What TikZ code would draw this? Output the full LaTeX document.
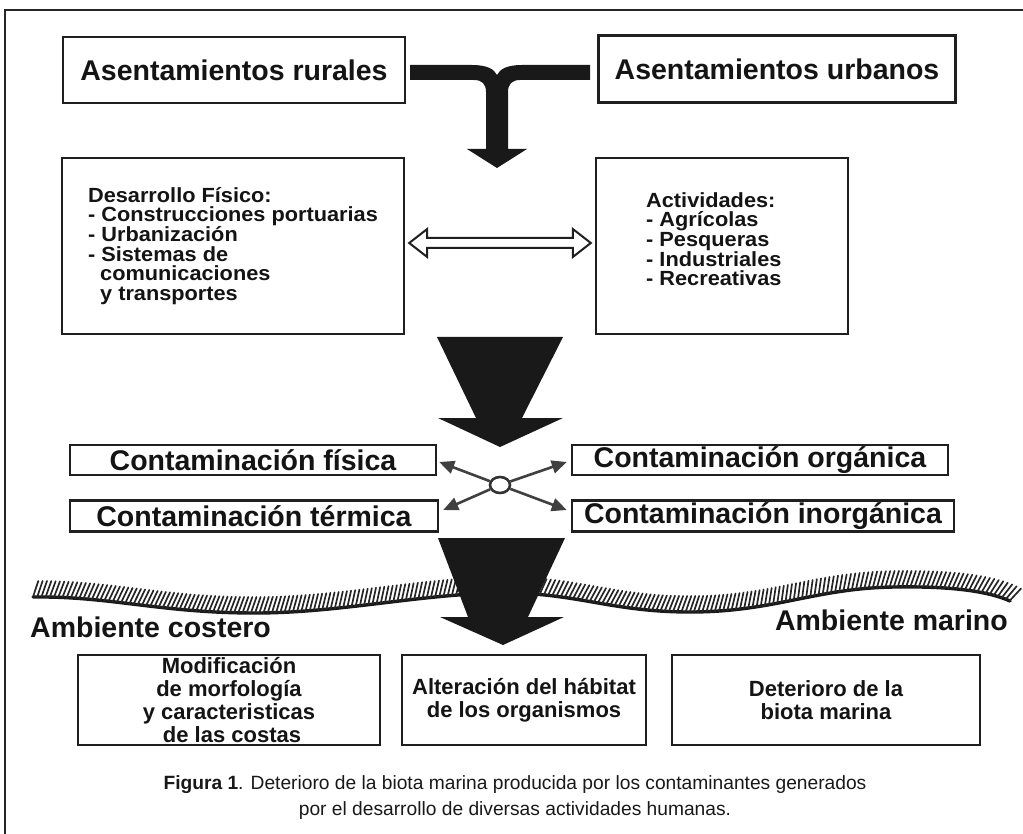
\documentclass[tikz,border=0pt]{standalone}
\usepackage{fontspec}
\setmainfont{Liberation Sans}
\newfontfamily\widesans[FakeStretch=1.06]{Liberation Sans}
\usetikzlibrary{arrows.meta,calc,shapes.geometric,decorations.markings}
\newcommand\tightlines{\lineskiplimit=-100pt\relax}

\begin{document}
\begin{tikzpicture}[x=1pt,y=-1pt,
  ink/.style={draw=black!88, line width=2.4pt},
  box/.style={ink, rectangle, inner sep=0pt, fill=white},
  bigtxt/.style={font={\fontsize{28.5}{30}\selectfont\bfseries}, text=black!92},
  midtxt/.style={font={\widesans\fontsize{20.5}{19.7}\selectfont\bfseries\tightlines},
      text=black!92, align=left, inner sep=0pt},
  lowtxt/.style={font={\fontsize{22}{23}\selectfont\bfseries\tightlines},
      text=black!92, align=center},
  captxt/.style={font={\fontsize{19.2}{26}\selectfont}, text=black!90, align=center},
  solidfill/.style={fill=black!90},
  hollow/.style={draw=black!88, line width=2pt, fill=white, line join=miter},
  spoke/.style={draw=black!75, line width=2.6pt, -{Triangle[length=15pt,width=13pt]}},
  hubring/.style={draw=black!80, line width=2.6pt, ellipse, fill=white, minimum width=20pt, minimum height=16pt, inner sep=0pt},
  hatchband/.style={decoration={markings,
      mark=between positions 0 and 1 step 4.2pt with {\draw[black!85, line width=1.7pt] (0pt,0pt) -- (5.5pt,16pt);}},
      postaction={decorate}},
]
\useasboundingbox (0,0) rectangle (1023,834);
\fill[white] (0,0) rectangle (1023,834);

% outer frame (open to the right and bottom)
\draw[draw=black!85, line width=2.2pt] (5,834) -- (5,10) -- (1023,10);

% settlements
\node[box, minimum width=342pt, minimum height=66pt, bigtxt] (rur) at (234,70) {Asentamientos rurales};
\node[box, minimum width=357pt, minimum height=67pt, bigtxt] (urb) at (777,69) {Asentamientos urbanos};

% T-shaped joining arrow
\fill[solidfill] (410,65) -- (472,65) .. controls (487,65) and (494,69) .. (497,75)
  .. controls (500,69) and (507,65) .. (522,65) -- (590,65) -- (590,80) -- (520,80)
  .. controls (512,80) and (508,84) .. (508,92) -- (508,149) -- (527,149) -- (497,168)
  -- (467,149) -- (486,149) -- (486,92) .. controls (486,84) and (482,80) .. (474,80)
  -- (410,80) -- cycle;

% development and activities
\node[box, minimum width=342pt, minimum height=176pt, midtxt] (des) at (233,246)
  {Desarrollo Físico:\\- Construcciones portuarias\\- Urbanización\\- Sistemas de\\\ \ comunicaciones\\\ \ y transportes};
\node[box, minimum width=252pt, minimum height=176pt] (act) at (722,246) {};
\node[midtxt, anchor=north west] (acttxt) at (646,192)
  {Actividades:\\- Agrícolas\\- Pesqueras\\- Industriales\\- Recreativas};

% hollow two-headed arrow between them
\coordinate (hl) at ($(des.east)+(4,-3)$);
\coordinate (hr) at ($(act.west)+(-4,-3)$);
\draw[hollow] (hl) -- ++(18,-14) -- ++(0,9) -- ($(hr)+(-18,-5)$) -- ++(0,-9) -- (hr)
  -- ++(-18,14) -- ++(0,-9) -- ($(hl)+(18,5)$) -- ++(0,9) -- cycle;

% first big arrow
\fill[solidfill] (437,337) -- (563,337) -- (522,418) -- (563,418) -- (500,447)
  -- (438,418) -- (476,418) -- cycle;

% pollution types
\node[box, minimum width=366pt, minimum height=30pt, bigtxt] (fis) at (253,460) {Contaminación física};
\node[box, minimum width=376pt, minimum height=30pt, bigtxt] (org) at (760,460) {Contaminación orgánica};
\node[box, minimum width=368pt, minimum height=31pt, bigtxt] (ter) at (254,516) {Contaminación térmica};
\node[box, minimum width=382pt, minimum height=31pt, bigtxt] (ino) at (763,516) {Contaminación inorgánica};

\node[hubring] (hub) at (500,485) {};
\draw[spoke] (hub) -- ($(fis.east)+(2,2)$);
\draw[spoke] (hub) -- ($(org.west)+(-4,2)$);
\draw[spoke] (hub) -- ($(ter.east)+(4,-6)$);
\draw[spoke] (hub) -- ($(ino.west)+(-4,-6)$);

% coastline
\draw[hatchband, draw=black!90, line width=3.4pt, line cap=round]
  (33,597) .. controls (110,596) and (160,613) .. (255,613)
  .. controls (340,613) and (420,594) .. (500,593)
  .. controls (575,592) and (610,612) .. (690,612)
  .. controls (775,612) and (815,588) .. (895,587)
  .. controls (955,586) and (990,592) .. (1010,601);

% second big arrow
\fill[solidfill] (438,538) -- (565,538) -- (528,617) -- (564,617) -- (503,645)
  -- (440,617) -- (468,617) -- cycle;

\node[bigtxt, anchor=west, inner sep=0pt] (cost) at (30,627) {Ambiente costero};
\node[bigtxt, anchor=east, inner sep=0pt] (mar) at (1008,620) {Ambiente marino};

% effects
\node[box, minimum width=302pt, minimum height=90pt, lowtxt] (ef1) at (229,700)
  {Modificación\\de morfología\\y caracteristicas\\\ de las costas};
\node[box, minimum width=244pt, minimum height=90pt, lowtxt] (ef2) at (524,700)
  {Alteración del hábitat\\de los organismos};
\node[box, minimum width=308pt, minimum height=90pt, lowtxt] (ef3) at (826,700)
  {Deterioro de la\\biota marina};

% caption
\node[captxt] (cap) at (515,798)
  {\textbf{Figura 1}. Deterioro de la biota marina producida por los contaminantes generados\\
   por el desarrollo de diversas actividades humanas.};
\end{tikzpicture}
\end{document}
